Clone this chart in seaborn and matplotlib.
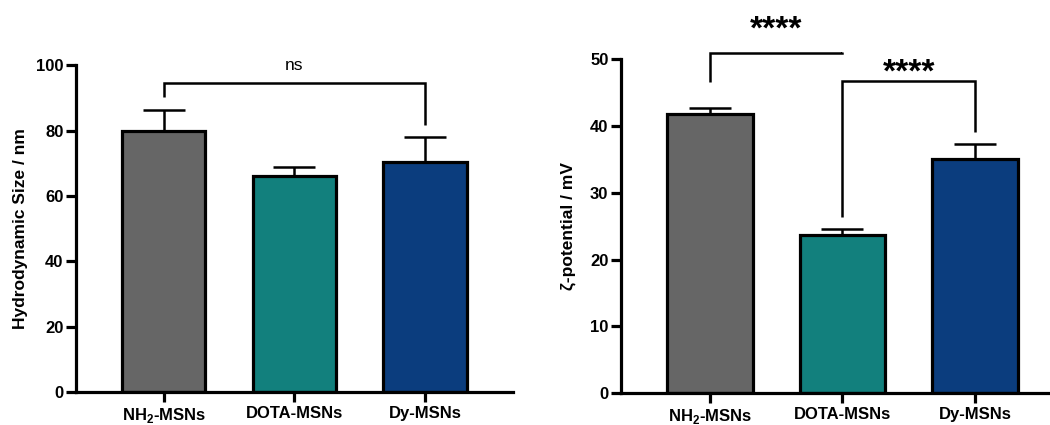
import numpy as np
import pandas as pd
import matplotlib
matplotlib.use('Agg')
import matplotlib.pyplot as plt
import seaborn as sns

# data
samples = ['NH$_{\\bf 2}$-MSNs', 'DOTA-MSNs', 'Dy-MSNs']
size_mean = [80.0, 66.0, 70.5]
size_sd = [6.4, 2.9, 7.5]
zeta_mean = [41.8, 23.7, 35.0]
zeta_sd = [0.9, 0.9, 2.3]
colors = ['#666666', '#12807D', '#0B3D7E']

sns.set_style('ticks', {'axes.edgecolor': 'black', 'xtick.color': 'black',
                        'ytick.color': 'black', 'text.color': 'black',
                        'axes.labelcolor': 'black'})
plt.rcParams['font.family'] = ['Liberation Sans', 'DejaVu Sans']
plt.rcParams['font.weight'] = 'bold'
plt.rcParams['mathtext.fontset'] = 'custom'
plt.rcParams['mathtext.bf'] = 'Liberation Sans:bold'
plt.rcParams['mathtext.rm'] = 'Liberation Sans:bold'

df = pd.DataFrame({'sample': samples, 'size': size_mean, 'zeta': zeta_mean})

fig = plt.figure(figsize=(10.5, 4.25), dpi=100)
ax0 = fig.add_axes([0.0724, 0.0776, 0.416, 0.769])
ax1 = fig.add_axes([0.5914, 0.0746, 0.4219, 0.786])


def draw_panel(ax, col, sd, ylim, step, width):
    sns.barplot(df, x='sample', y=col, hue='sample', palette=colors, legend=False,
                saturation=1, width=width, edgecolor='black', linewidth=2.3,
                ax=ax, zorder=2)
    ax.errorbar(range(3), df[col], yerr=[np.zeros(3), sd], fmt='none',
                ecolor='black', elinewidth=1.8, capsize=15, capthick=1.8, zorder=1)
    ax.set_ylim(*ylim)
    ax.set_yticks(np.arange(ylim[0], ylim[1] + 1, step))
    ax.set_xlim(-0.67, 2.67)
    ax.set_xlabel('')
    for s in ['top', 'right']:
        ax.spines[s].set_visible(False)
    for s in ['left', 'bottom']:
        ax.spines[s].set_linewidth(2.3)
    ax.tick_params(axis='both', width=2.3, length=7, labelsize=12, colors='black')
    ax.tick_params(axis='x', pad=3)
    ax.tick_params(axis='y', pad=2)
    for t in ax.get_xticklabels() + ax.get_yticklabels():
        t.set_fontweight('bold')


def bracket(ax, x1, x2, y, y1, y2, label, ty, **kw):
    ax.plot([x1, x1, x2, x2], [y1, y, y, y2], color='black', lw=1.8,
            clip_on=False, solid_capstyle='butt', solid_joinstyle='miter')
    ax.text((x1 + x2) / 2, ty, label, ha='center', va='center', **kw)


draw_panel(ax0, 'size', size_sd, (0, 100), 20, 0.64)
ax0.set_ylabel('Hydrodynamic Size / nm', fontsize=12.5, fontweight='bold', labelpad=6)
bracket(ax0, 0, 2, 94.4, 90.3, 81.7, 'ns', 99.8, fontsize=12.5, fontweight='normal')

draw_panel(ax1, 'zeta', zeta_sd, (0, 50), 10, 0.645)
ax1.set_ylabel('ζ-potential / mV', fontsize=12.5, fontweight='bold', labelpad=10)
bracket(ax1, 0, 1, 50.95, 46.6, 51.1, '****', 54.3, fontsize=24, fontweight='bold')
bracket(ax1, 1, 2, 46.75, 26.4, 39.1, '****', 48.0, fontsize=24, fontweight='bold')

fig.savefig('out.png', dpi=100)
